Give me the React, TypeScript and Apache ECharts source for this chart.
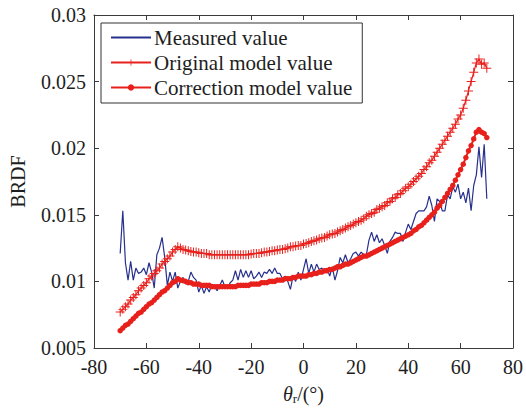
import React, { useEffect, useRef } from "react";
import * as echarts from "echarts";

const THETA_START = -70;
const THETA_STEP = 1;

const measuredValues = [
  0.0121, 0.0153, 0.0114, 0.0101, 0.0115, 0.0101, 0.0110, 0.0106, 0.0107, 0.0110,
  0.0105, 0.0114, 0.0107, 0.0095, 0.0120, 0.0125, 0.0133, 0.0118, 0.0097, 0.0107,
  0.0100, 0.0107, 0.0095, 0.0100, 0.0103, 0.0098, 0.0100, 0.0107, 0.0103, 0.0101,
  0.0092, 0.0097, 0.0091, 0.0096, 0.0092, 0.0098, 0.0096, 0.0093, 0.0097, 0.0101,
  0.0096, 0.0095, 0.0099, 0.0101, 0.0108, 0.0101, 0.0109, 0.0103, 0.0108, 0.0103,
  0.0108, 0.0102, 0.0104, 0.0107, 0.0103, 0.0107, 0.0106, 0.0109, 0.0106, 0.0110,
  0.0106, 0.0106, 0.0102, 0.0104, 0.0100, 0.0094, 0.0104, 0.0100, 0.0107, 0.0101,
  0.0109, 0.0117, 0.0106, 0.0113, 0.0107, 0.0113, 0.0109, 0.0110, 0.0107, 0.0110,
  0.0104, 0.0111, 0.0101, 0.0108, 0.0118, 0.0114, 0.0120, 0.0114, 0.0117, 0.0121,
  0.0122, 0.0119, 0.0122, 0.0120, 0.0120, 0.0131, 0.0137, 0.0130, 0.0135, 0.0129,
  0.0132, 0.0127, 0.0121, 0.0130, 0.0133, 0.0137, 0.0136, 0.0136, 0.0130, 0.0137,
  0.0143, 0.0139, 0.0145, 0.0151, 0.0153, 0.0153, 0.0153, 0.0156, 0.0164, 0.0157,
  0.0145, 0.0162, 0.0160, 0.0153, 0.0153, 0.0165, 0.0162, 0.0171, 0.0167, 0.0173,
  0.0162, 0.0167, 0.0159, 0.0170, 0.0153, 0.0172, 0.0180, 0.0201, 0.0178, 0.0203,
  0.0162,
];

const originalValues = [
  0.0077, 0.0079, 0.0081, 0.0083, 0.0086, 0.0088, 0.0090, 0.0093, 0.0095, 0.0097,
  0.0099, 0.0102, 0.0104, 0.0106, 0.0108, 0.0110, 0.0113, 0.0115, 0.0117, 0.0119,
  0.0122, 0.0124, 0.0126, 0.0125, 0.0124, 0.01235, 0.0123, 0.01225, 0.0122, 0.0122,
  0.01215, 0.0121, 0.0121, 0.0121, 0.0120, 0.0120, 0.0120, 0.0120, 0.0120, 0.0120,
  0.0120, 0.0120, 0.0120, 0.0120, 0.0120, 0.0120, 0.0120, 0.0120, 0.0120, 0.0120,
  0.01205, 0.0121, 0.0121, 0.0121, 0.01215, 0.0122, 0.0122, 0.01225, 0.0123, 0.0123,
  0.01235, 0.0124, 0.0124, 0.01245, 0.0125, 0.0126, 0.0126, 0.01265, 0.0127, 0.0127,
  0.0128, 0.01285, 0.0129, 0.0130, 0.01305, 0.0131, 0.0132, 0.01325, 0.0133, 0.0134,
  0.0135, 0.01355, 0.0136, 0.0137, 0.0138, 0.0139, 0.0140, 0.0141, 0.0142, 0.0143,
  0.0144, 0.0145, 0.0146, 0.0147, 0.0149, 0.0150, 0.0151, 0.0152, 0.0154, 0.0155,
  0.0156, 0.0157, 0.0159, 0.0160, 0.0162, 0.0163, 0.0165, 0.0166, 0.0168, 0.0170,
  0.0171, 0.0173, 0.0175, 0.0177, 0.0179, 0.0181, 0.0184, 0.0186, 0.0189, 0.0191,
  0.0194, 0.0197, 0.0200, 0.0203, 0.0206, 0.0209, 0.0212, 0.0215, 0.0218, 0.0222,
  0.0225, 0.0230, 0.0236, 0.0243, 0.0250, 0.0257, 0.0264, 0.0267, 0.0263, 0.0264,
  0.0260,
];

const correctionValues = [
  0.0063, 0.0065, 0.0067, 0.0068, 0.0070, 0.0072, 0.0074, 0.0076, 0.0077, 0.0079,
  0.0081, 0.0083, 0.0084, 0.0086, 0.0088, 0.0090, 0.0092, 0.0093, 0.0095, 0.0097,
  0.0099, 0.0100, 0.0102, 0.0101, 0.01005, 0.0100, 0.0099, 0.0099, 0.0098, 0.0098,
  0.0098, 0.0097, 0.0097, 0.0097, 0.0097, 0.0096, 0.0096, 0.0096, 0.0096, 0.0096,
  0.0096, 0.0096, 0.0096, 0.0096, 0.0096, 0.0097, 0.0097, 0.0097, 0.0097, 0.0097,
  0.0098, 0.0098, 0.0098, 0.0098, 0.0099, 0.0099, 0.0099, 0.0100, 0.0100, 0.0100,
  0.0101, 0.0101, 0.0101, 0.0102, 0.0102, 0.0102, 0.0103, 0.0103, 0.0104, 0.0104,
  0.0104, 0.0104, 0.0105, 0.0105, 0.0106, 0.0106, 0.0107, 0.0107, 0.0108, 0.0108,
  0.0109, 0.0109, 0.0110, 0.0111, 0.0111, 0.0112, 0.0113, 0.0113, 0.0114, 0.0115,
  0.0116, 0.0117, 0.0118, 0.0119, 0.0119, 0.0120, 0.0121, 0.0122, 0.0123, 0.0124,
  0.0125, 0.0126, 0.0127, 0.0128, 0.0129, 0.0130, 0.0131, 0.0132, 0.0133, 0.0134,
  0.0135, 0.0136, 0.0138, 0.0139, 0.0141, 0.0142, 0.0144, 0.0146, 0.0148, 0.0150,
  0.0152, 0.0155, 0.0157, 0.0160, 0.0163, 0.0166, 0.0169, 0.0172, 0.0176, 0.0180,
  0.0184, 0.0188, 0.0193, 0.0198, 0.0202, 0.0207, 0.0212, 0.0214, 0.0212, 0.0211,
  0.0208,
];

const seriesNames = ["Measured value", "Original model value", "Correction model value"];

const X_MIN = -80;
const X_MAX = 80;
const X_INTERVAL = 20;
const Y_MIN = 0.005;
const Y_MAX = 0.03;
const Y_INTERVAL = 0.005;

const FONT = "Liberation Serif";
const RED = "#e8201c";
const BLUE = "#27308c";
const AXIS = "#3a3a3a";
const TEXT = "#1e1e1e";

const PLUS =
  "path://M-0.11,-1 L0.11,-1 L0.11,-0.11 L1,-0.11 L1,0.11 L0.11,0.11 L0.11,1 L-0.11,1 L-0.11,0.11 L-1,0.11 L-1,-0.11 L-0.11,-0.11 Z";

function pairs(values: number[]) {
  return values.map((v, i) => [THETA_START + i * THETA_STEP, v]);
}

export default function App() {
  const ref = useRef<HTMLDivElement>(null);

  useEffect(() => {
    if (!ref.current) return;
    const chart = echarts.init(ref.current, undefined, { renderer: "svg" });

    const axisCommon = {
      axisLine: { show: true, onZero: false, lineStyle: { color: AXIS, width: 1 } },
      axisTick: { show: true, inside: true, length: 5, lineStyle: { color: AXIS } },
      splitLine: { show: false },
    };

    chart.setOption({
      animation: false,
      backgroundColor: "#ffffff",
      grid: { left: 94, top: 15, right: 13, bottom: 50, containLabel: false },
      legend: {
        orient: "vertical",
        left: 101,
        top: 23,
        padding: [4, 10, 5, 9],
        itemWidth: 40,
        itemHeight: 8,
        itemGap: 4,
        borderColor: "#333",
        borderWidth: 1,
        backgroundColor: "#fff",
        data: [
          { name: seriesNames[0], itemStyle: { color: "rgba(0,0,0,0)", opacity: 0 } },
          { name: seriesNames[1] },
          { name: seriesNames[2] },
        ],
        textStyle: {
          fontFamily: FONT,
          fontSize: 21,
          color: TEXT,
          lineHeight: 21,
          padding: [0, 0, 0, -2],
        },
      },
      xAxis: [
        {
          type: "value",
          min: X_MIN,
          max: X_MAX,
          interval: X_INTERVAL,
          position: "bottom",
          ...axisCommon,
          axisLabel: {
            fontFamily: FONT,
            fontSize: 20,
            color: TEXT,
            margin: 9,
          },
          name: "{i|θ}{s|r}{n|/(°)}",
          nameLocation: "middle",
          nameGap: 34,
          nameTextStyle: {
            rich: {
              i: { fontFamily: FONT, fontSize: 20, fontStyle: "italic", color: TEXT },
              s: { fontFamily: FONT, fontSize: 13, color: TEXT, padding: [10, 0, 0, 0] },
              n: { fontFamily: FONT, fontSize: 20, color: TEXT },
            },
          },
        },
        {
          type: "value",
          min: X_MIN,
          max: X_MAX,
          interval: X_INTERVAL,
          position: "top",
          ...axisCommon,
          axisLabel: { show: false },
        },
      ],
      yAxis: [
        {
          type: "value",
          min: Y_MIN,
          max: Y_MAX,
          interval: Y_INTERVAL,
          position: "left",
          ...axisCommon,
          axisLabel: {
            fontFamily: FONT,
            fontSize: 20,
            color: TEXT,
            margin: 8,
            formatter: (v: number) => String(+v.toFixed(3)),
          },
          name: "BRDF",
          nameLocation: "middle",
          nameGap: 66,
          nameTextStyle: { fontFamily: FONT, fontSize: 20, color: TEXT },
        },
        {
          type: "value",
          min: Y_MIN,
          max: Y_MAX,
          interval: Y_INTERVAL,
          position: "right",
          ...axisCommon,
          axisLabel: { show: false },
        },
      ],
      series: [
        {
          name: seriesNames[0],
          type: "line",
          data: pairs(measuredValues),
          showSymbol: false,
          symbol: "none",
          lineStyle: { color: BLUE, width: 1.2 },
          itemStyle: { color: BLUE },
          z: 2,
        },
        {
          name: seriesNames[1],
          type: "line",
          data: pairs(originalValues),
          symbol: PLUS,
          symbolSize: 9,
          lineStyle: { color: RED, width: 1.2 },
          itemStyle: { color: RED },
          z: 3,
        },
        {
          name: seriesNames[2],
          type: "line",
          data: pairs(correctionValues),
          symbol: "circle",
          symbolSize: 5.5,
          lineStyle: { color: RED, width: 2 },
          itemStyle: { color: RED },
          z: 4,
        },
      ],
    });

    return () => chart.dispose();
  }, []);

  return (
    <div
      ref={ref}
      style={{ position: "fixed", left: 0, top: 0, width: 526, height: 410, background: "#fff" }}
    />
  );
}
